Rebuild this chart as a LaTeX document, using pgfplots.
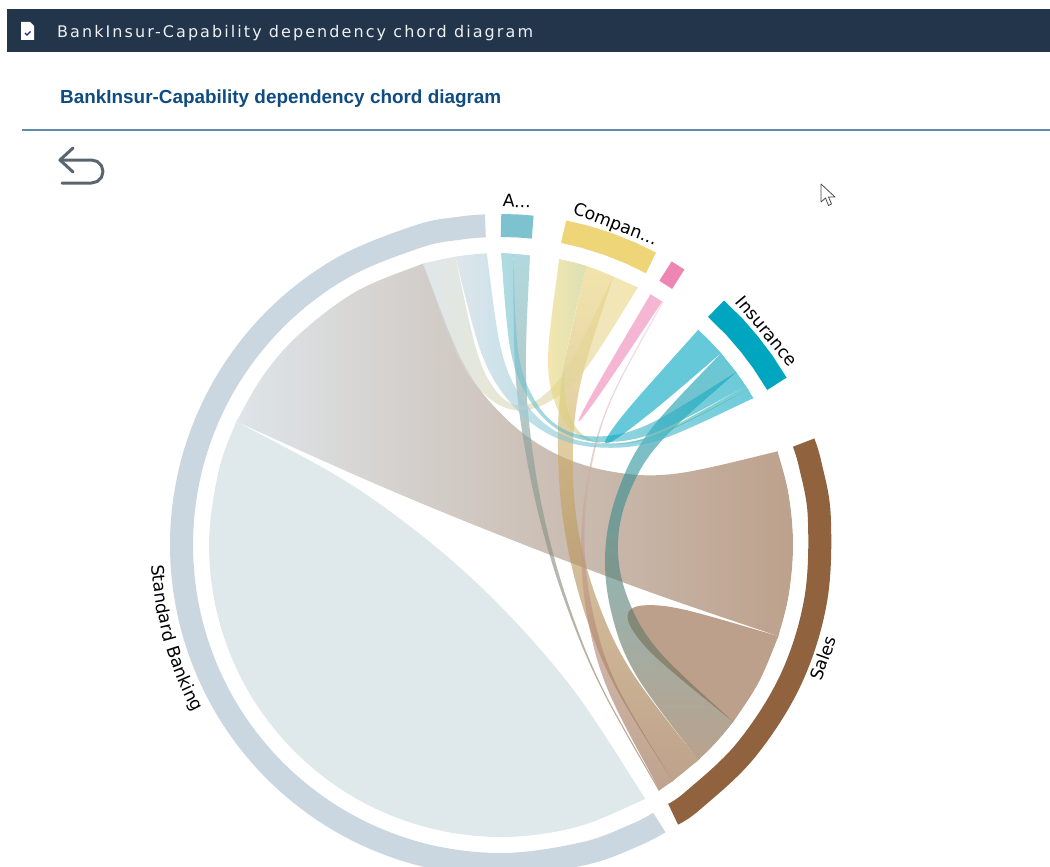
\documentclass[border=0pt]{standalone}
\usepackage{fontspec}
\usepackage{pgfplots}
\pgfplotsset{compat=1.18}
\usetikzlibrary{decorations.text}
\setmainfont{DejaVu Sans}
\newfontfamily\titlefont{Liberation Sans}
\newfontfamily\headfont[LetterSpace=13]{DejaVu Sans}
\definecolor{cbar}{HTML}{22354B}
\definecolor{ctitle}{HTML}{0F4C81}
\definecolor{crule}{HTML}{5F8BAE}
\definecolor{cicon}{HTML}{58666E}
\definecolor{cgray}{HTML}{CBD7E0}
\definecolor{cgrayb}{HTML}{CAD9DE}
\definecolor{cteal}{HTML}{7CC3CF}
\definecolor{cyell}{HTML}{EED678}
\definecolor{cpink}{HTML}{EE86B4}
\definecolor{cins}{HTML}{00A6C0}
\definecolor{cbrown}{HTML}{91623E}
\pgfplotsset{
  ring/.style={no marks,forget plot,line width=23pt,line cap=butt,line join=round},
  chord/.style={smooth,tension=0.6,no marks,draw=none,fill opacity=0.6,forget plot},
  flat/.style={sharp plot,no marks,draw=none,forget plot},
}
\newcommand\lab{\fontsize{17.3}{19}\selectfont}
\begin{document}
\begin{tikzpicture}
\begin{axis}[width=1050pt,height=867pt,scale only axis,hide axis,
  xmin=0,xmax=1050,ymin=0,ymax=867,y dir=reverse,clip=true]
% page area
\addplot[flat,fill=white] coordinates {(0,0)(1050,0)(1050,867)(0,867)};
% header
\addplot[flat,fill=cbar] coordinates {(7,9)(1050,9)(1050,52)(7,52)};
\addplot[flat,fill=white] coordinates {(21,22)(30,22)(34,26)(34,40)(21,40)};
\addplot[sharp plot,no marks,forget plot,draw=cbar!70!blue,line width=1.2pt] coordinates {(25,33)(27,35)(30.5,31.5)};
\addplot[sharp plot,no marks,forget plot,draw=crule,line width=1.3pt] coordinates {(22,130)(1050,130)};
% back arrow
\addplot[sharp plot,no marks,forget plot,draw=cicon,line width=3pt,line join=round,line cap=round] coordinates {(73,148)(60,160)(73,172)};
\addplot[sharp plot,no marks,forget plot,draw=cicon,line width=3pt,line join=round,line cap=round] coordinates {(60,160)(91.5,160)(97.3,161.5)(101.5,165.8)(103,171.5)(101.5,177.3)(97.3,181.5)(91.5,183)(62,183)};
% cursor
\addplot[sharp plot,no marks,forget plot,draw=black!70,fill=white,line width=0.8pt,line join=round] coordinates {(821,184)(821,202)(825.5,198)(828.5,205.5)(831.5,204)(828.5,197)(835,197)(821,184)};
% Standard Banking self
\addplot[chord,fill=cgrayb] coordinates {(645.2,798.9)(645.2,798.9)(645.2,798.9)(576.6,827)(501,837)(425.4,827)(355,797.9)(294.5,751.5)(248.1,691)(219,620.6)(209,545)(219,469.4)(236.4,421.6)(236.4,421.6)(236.4,421.6)(337.5,476.2)(406.9,524)(470.9,577.6)(529.5,637.2)(582.7,702.6)(645.2,798.9)(645.2,798.9)(645.2,798.9)};
% Standard Banking - Sales
\addplot[chord,left color=cgray,right color=cbrown] coordinates {(423,263.6)(423,263.6)(423,263.6)(355,292.1)(294.5,338.5)(261.8,377.5)(236.4,421.6)(236.4,421.6)(236.4,421.6)(342.8,469.6)(423.2,504.1)(504.2,536.9)(585.8,568.4)(667.9,598.5)(778.4,636.2)(778.4,636.2)(778.4,636.2)(788.6,595.7)(793,545)(788.6,494.3)(777.6,451.4)(777.6,451.4)(777.6,451.4)(674.9,473.8)(608.3,471)(550.7,451.2)(501.9,414.6)(462.2,361.2)(423,263.6)(423,263.6)(423,263.6)};
% Sales self
\addplot[chord,fill=cbrown] coordinates {(733.3,721.9)(733.3,721.9)(733.3,721.9)(758.8,682.1)(778.4,636.2)(778.4,636.2)(778.4,636.2)(687.8,610.5)(646.7,605.2)(628.5,612)(633.1,630.9)(660.8,661.8)(733.3,721.9)(733.3,721.9)(733.3,721.9)};
% Insurance - Sales
\addplot[chord,top color=cins,bottom color=cbrown] coordinates {(721.1,353)(721.1,353)(721.1,353)(736.3,372.1)(736.3,372.1)(736.3,372.1)(660.9,441.4)(628.9,493.7)(617.9,546)(627.9,598.5)(659.1,651.3)(733.3,721.9)(733.3,721.9)(733.3,721.9)(716.6,741.9)(698.3,760.3)(698.3,760.3)(698.3,760.3)(636.1,675.1)(611.4,612.5)(605.3,550.8)(618.2,490.3)(649.8,430.7)(721.1,353)(721.1,353)(721.1,353)};
% Company - Sales
\addplot[chord,top color=cyell,bottom color=cbrown] coordinates {(586.4,265.8)(586.4,265.8)(586.4,265.8)(600.2,270.3)(613.7,275.6)(613.7,275.6)(613.7,275.6)(581,381.2)(572.8,457.6)(578.5,531.4)(598.2,603)(631.8,672)(698.3,760.3)(698.3,760.3)(698.3,760.3)(672.6,781.2)(672.6,781.2)(672.6,781.2)(614.2,685)(584,610.6)(565.3,534.3)(558.1,455.9)(562.6,375.7)(586.4,265.8)(586.4,265.8)(586.4,265.8)};
% Pink - Sales (thin)
\addplot[chord,top color=cpink!35!white,bottom color=cbrown] coordinates {(662.2,301.5)(662.2,301.5)(662.2,301.5)(663.4,302.3)(663.4,302.3)(663.4,302.3)(611.8,399.1)(590.6,471.4)(584.5,543.4)(593.4,615.1)(617.3,686.5)(672.6,781.2)(672.6,781.2)(672.6,781.2)(659.6,790.2)(659.6,790.2)(659.6,790.2)(608.9,692.2)(587.7,618.8)(581,545.4)(588.5,472.1)(610.5,399)(662.2,301.5)(662.2,301.5)(662.2,301.5)};
% A - Sales (thin)
\addplot[chord,top color=cteal,bottom color=cbrown] coordinates {(513.2,253.3)(513.2,253.3)(513.2,253.3)(530,254.4)(530,254.4)(530,254.4)(525.9,368.8)(532.7,452.2)(548,533.6)(571.6,613)(603.7,690.3)(659.6,790.2)(659.6,790.2)(659.6,790.2)(658.7,790.7)(658.7,790.7)(658.7,790.7)(602.4,690.5)(569.1,613.1)(543.5,533.5)(525.5,451.9)(515.1,368.1)(513.2,253.3)(513.2,253.3)(513.2,253.3)};
% Company - Standard Banking
\addplot[chord,left color=cgray,right color=cyell] coordinates {(423,263.6)(423,263.6)(423,263.6)(438.6,260)(455.3,256.6)(455.3,256.6)(455.3,256.6)(476.3,349.6)(495.5,390.2)(517.8,405.5)(543,395.9)(571.3,361.1)(613.7,275.6)(613.7,275.6)(613.7,275.6)(626,281)(638.1,287.2)(638.1,287.2)(638.1,287.2)(585.6,368.7)(549.3,401.6)(515.8,410.1)(484.8,394.5)(456.6,354.6)(423,263.6)(423,263.6)(423,263.6)};
% Company - Insurance
\addplot[chord,left color=cyell,right color=cins] coordinates {(559.2,258.9)(559.2,258.9)(559.2,258.9)(572.6,261.9)(586.4,265.8)(586.4,265.8)(586.4,265.8)(565.5,359.9)(567.1,407.5)(583.6,435.4)(615,443.6)(661.1,432)(745.9,386)(745.9,386)(745.9,386)(748.2,389.5)(748.2,389.5)(748.2,389.5)(661.5,434.1)(612.5,444.3)(577.4,434.6)(555.9,405.1)(548.1,355.7)(559.2,258.9)(559.2,258.9)(559.2,258.9)};
% Standard Banking - Insurance
\addplot[chord,left color=cgray,right color=cins] coordinates {(455.3,256.6)(455.3,256.6)(455.3,256.6)(470.5,254.6)(486.7,253.3)(486.7,253.3)(486.7,253.3)(501.7,352.1)(525.3,402.8)(559.2,433.2)(603.6,443.6)(658.6,433.8)(748.2,389.5)(748.2,389.5)(748.2,389.5)(753.5,398.1)(753.5,398.1)(753.5,398.1)(660.8,439.5)(602.1,447.6)(552.7,436.2)(512.6,405.2)(481.9,354.5)(455.3,256.6)(455.3,256.6)(455.3,256.6)};
% A - Insurance
\addplot[chord,left color=cteal,right color=cins] coordinates {(501,253)(501,253)(501,253)(513.2,253.3)(513.2,253.3)(513.2,253.3)(518.2,351.4)(535,400.6)(562.9,428.9)(601.9,436.3)(652.1,422.6)(736.3,372.1)(736.3,372.1)(736.3,372.1)(741.3,379.2)(745.9,386)(745.9,386)(745.9,386)(657.7,431.5)(604.5,442)(562.2,432.2)(531,402.1)(510.8,351.7)(501,253)(501,253)(501,253)};
% self chords Insurance, Pink
\addplot[chord,fill=cins] coordinates {(698.3,329.7)(698.3,329.7)(698.3,329.7)(710,341.1)(721.1,353)(721.1,353)(721.1,353)(681.3,387.3)(649.8,413.5)(618.2,437.5)(605.3,443.2)(611.4,430.5)(636.1,399.5)(698.3,329.7)(698.3,329.7)(698.3,329.7)};
\addplot[chord,fill=cpink] coordinates {(650.5,294.2)(650.5,294.2)(650.5,294.2)(662.2,301.5)(662.2,301.5)(662.2,301.5)(610.2,379.2)(587.4,411.4)(578.7,421.4)(583.9,409.2)(603.1,374.8)(650.5,294.2)(650.5,294.2)(650.5,294.2)};
% white gap between the chords and the ring
\addplot[smooth,tension=0.6,no marks,forget plot,draw=white,line width=40pt,line cap=butt] coordinates {(501,232.7)(581.8,243.3)(657.2,274.5)(721.8,324.2)(771.5,388.8)(802.7,464.2)(813.3,545)(802.7,625.8)(771.5,701.2)(721.8,765.8)(657.2,815.5)(581.8,846.7)(501,857.3)(420.2,846.7)(344.8,815.5)(280.2,765.8)(230.5,701.2)(199.3,625.8)(188.7,545)(199.3,464.2)(230.5,388.8)(280.2,324.2)(344.8,274.5)(420.2,243.3)(501,232.7)(581.8,243.3)(657.2,274.5)};
% rings
\addplot[ring,smooth,tension=0.6,draw=cgray] coordinates {(659.3,822.5)(636,834.6)(583.7,853.6)(501,864.5)(418.3,853.6)(341.3,821.7)(275.1,770.9)(224.3,704.8)(192.4,627.7)(181.5,545)(192.4,462.3)(224.3,385.3)(275.1,319.1)(341.3,268.3)(418.3,236.4)(460.4,228.1)(485.4,225.9)};
\addplot[ring,sharp plot,draw=cteal] coordinates {(501,225.5)(516.9,225.9)(532.7,227.1)};
\addplot[ring,sharp plot,draw=cyell] coordinates {(563.6,231.7)(583.7,236.4)(608.4,244.1)(630.9,253.1)(651,262.9)};
\addplot[ring,sharp plot,draw=cpink] coordinates {(665.5,271.1)(678.3,279.2)};
\addplot[ring,sharp plot,draw=cins] coordinates {(716,308.7)(734.7,327.1)(749.3,344)(762.7,361.7)(776.9,383.8)};
\addplot[ring,smooth,tension=0.6,draw=cbrown] coordinates {(803.6,442.6)(810.3,465)(819.3,517.1)(815.6,600.5)(790.6,680)(745.7,750.4)(693.3,800.2)(673.1,814.2)};
% texts
\node[anchor=west,text=white!92!cbar,inner sep=0pt] at (axis cs:57,33.5) {\headfont\fontsize{16}{18}\selectfont BankInsur-Capability dependency chord diagram};
\node[anchor=west,text=ctitle,inner sep=0pt] at (axis cs:60,98.5) {\titlefont\bfseries\fontsize{18.9}{21}\selectfont BankInsur-Capability dependency chord diagram};
\node[rotate=-3] at (axis cs:517,201) {\lab A...};
\node[rotate=-21] at (axis cs:615,225) {\lab Compan...};
\node[rotate=-50] at (axis cs:767,331) {\lab Insurance};
\node[rotate=70] at (axis cs:823,658) {\lab Sales};
\path[decorate,decoration={text along path,text={|\lab|Standard Banking}}] (axis cs:151.6,565) .. controls (axis cs:154.8,621.4) and (axis cs:171.7,676.3) .. (axis cs:200.7,724.8);
\end{axis}
\end{tikzpicture}
\end{document}
